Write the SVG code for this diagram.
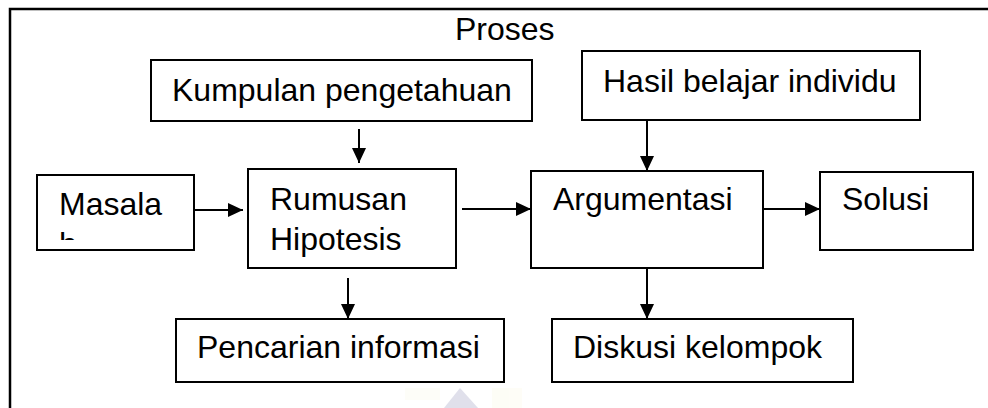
<svg xmlns="http://www.w3.org/2000/svg" width="988" height="408" viewBox="0 0 988 408">
<style>
.box{fill:#fff;stroke:#000;stroke-width:2}
.t{font-family:"Liberation Sans",Arial,sans-serif;font-size:32px;fill:#000}
.c{stroke:#000;stroke-width:2;fill:none}
</style>
<defs>
<marker id="ah" markerUnits="userSpaceOnUse" markerWidth="16" markerHeight="15" refX="15" refY="7" orient="auto">
<path d="M0,0 L15,7 L0,14 z" fill="#000"/>
</marker>
<clipPath id="mclip"><rect x="38" y="176" width="155" height="64"/></clipPath>
</defs>
<rect width="988" height="408" fill="#fff"/>
<g id="frame">
<path d="M10,408 V9 H988" fill="none" stroke="#000" stroke-width="2.5"/>
<text class="t" x="455" y="40">Proses</text>
</g>
<g id="watermark" opacity="0.3">
<polygon points="460,388 444,408 478,408" fill="#9a9ac0"/>
<rect x="405" y="388" width="35" height="12" fill="#fbfaeb"/>
<rect x="492" y="388" width="30" height="20" fill="#fbf9e4"/>
</g>
<g id="connectors">
<line class="c" x1="359" y1="129" x2="359" y2="163" marker-end="url(#ah)"/>
<line class="c" x1="647" y1="120" x2="647" y2="171" marker-end="url(#ah)"/>
<line class="c" x1="194" y1="210" x2="243" y2="210" marker-end="url(#ah)"/>
<line class="c" x1="462" y1="209" x2="531" y2="209" marker-end="url(#ah)"/>
<line class="c" x1="763" y1="209" x2="820" y2="209" marker-end="url(#ah)"/>
<line class="c" x1="348" y1="278" x2="348" y2="319" marker-end="url(#ah)"/>
<line class="c" x1="647" y1="268" x2="647" y2="319" marker-end="url(#ah)"/>
</g>
<g id="kumpulan">
<rect class="box" x="151" y="60" width="381" height="61"/>
<text class="t" x="172" y="101">Kumpulan pengetahuan</text>
</g>
<g id="hasil">
<rect class="box" x="582" y="51" width="338" height="69"/>
<text class="t" x="603" y="92">Hasil belajar individu</text>
</g>
<g id="masalah">
<rect class="box" x="37" y="175" width="157" height="75"/>
<g clip-path="url(#mclip)">
<text class="t" x="59" y="215">Masala</text>
<text class="t" x="59" y="255">h</text>
</g>
</g>
<g id="rumusan">
<rect class="box" x="248" y="169" width="208" height="99"/>
<text class="t" x="270" y="210">Rumusan</text>
<text class="t" x="270" y="250">Hipotesis</text>
</g>
<g id="argumentasi">
<rect class="box" x="531" y="171" width="232" height="97"/>
<text class="t" x="553" y="210">Argumentasi</text>
</g>
<g id="solusi">
<rect class="box" x="820" y="172" width="153" height="78"/>
<text class="t" x="842" y="210">Solusi</text>
</g>
<g id="pencarian">
<rect class="box" x="176" y="319" width="328" height="63"/>
<text class="t" x="197" y="358">Pencarian informasi</text>
</g>
<g id="diskusi">
<rect class="box" x="552" y="319" width="301" height="63"/>
<text class="t" x="573" y="358">Diskusi kelompok</text>
</g>
</svg>
